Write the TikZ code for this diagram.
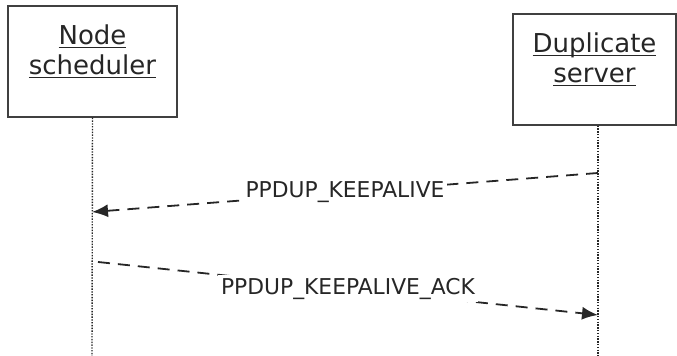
\documentclass[tikz,border=0pt]{standalone}
\usepackage{fontspec}
\setmainfont{DejaVu Sans}
\usetikzlibrary{arrows.meta,positioning,calc}
\newcommand{\SeqUnit}{0.5pt}
% underline set at the same depth whatever the descenders
\newcommand{\ulname}[1]{\underline{\smash{#1}}}

\begin{document}
\begin{tikzpicture}[x=\SeqUnit,y=-\SeqUnit,
		actor/.style={draw=black!75, line width=0.7pt, align=center, text=black!85,
			font=\fontsize{13}{15}\selectfont},
		lifeline/.style={black!85, line width=0.7pt, dash pattern=on 0.7pt off 0.7pt},
		message/.style={black!85, line width=0.9pt, dash pattern=on 6pt off 4pt,
			-{Latex[length=8pt,width=6.5pt]}},
		msglabel/.style={fill=white, inner sep=1.5pt, text=black!85,
			font=\fontsize{10.9}{12}\selectfont}]
	\useasboundingbox (0,0) rectangle (677,356);
	% participants
	\node[actor, minimum width=84.5pt, minimum height=55.5pt] (sched) at (92.5,61.5)
		{\ulname{Node}\\\ulname{scheduler}};
	\node[actor, minimum width=81.5pt, minimum height=55.5pt] (dup) at (594.5,69.5)
		{\ulname{Duplicate}\\\ulname{server}};
	% lifelines
	\coordinate (sched-end) at (92,356);
	\coordinate (dup-end) at (598,356);
	\draw[lifeline] (sched.south) -- (sched-end);
	\draw[lifeline] (dup.south -| dup-end) -- (dup-end);
	% messages
	\coordinate (ka-from) at (598,173);
	\coordinate (ka-to) at (92,212);
	\coordinate (ack-from) at (98,262);
	\coordinate (ack-to) at (598,315);
	\draw[message] (ka-from) -- (ka-to) node[msglabel, midway] (ka) {PPDUP\_KEEPALIVE};
	\draw[message] (ack-from) -- (ack-to) node[msglabel, midway] (ack) {PPDUP\_KEEPALIVE\_ACK};
\end{tikzpicture}
\end{document}
